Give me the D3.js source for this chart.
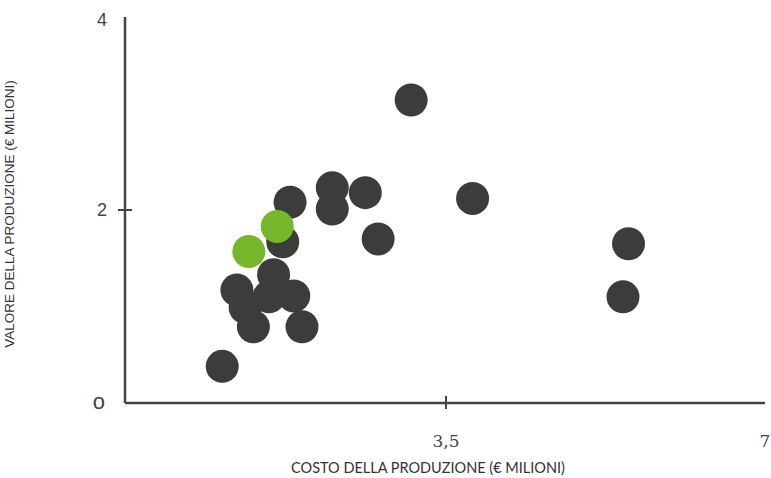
<!DOCTYPE html>
<html>
<head>
<meta charset="utf-8">
<script src="https://cdn.jsdelivr.net/npm/d3@7"></script>
<style>
  body { margin: 0; background: #fff; }
  svg { display: block; }
</style>
</head>
<body>
<div id="chart"></div>
<script>
// costo (x) e valore (y) della produzione, milioni di euro
const costo = [1.06, 1.22, 1.31, 1.40, 1.62, 1.57, 1.84, 1.93, 1.72, 1.80, 2.26, 2.26, 2.62, 2.76, 3.12, 3.79, 5.49, 5.43];
const valore = [0.38, 1.17, 0.99, 0.79, 1.33, 1.10, 1.11, 0.79, 1.67, 2.08, 2.23, 2.01, 2.18, 1.70, 3.14, 2.12, 1.65, 1.10];
const costoEvid = [1.35, 1.66];
const valoreEvid = [1.57, 1.83];
const xTicks = [3.5, 7];
const xTickLabels = ['3,5', '7'];
const yTicks = [0, 2, 4];
const yTickLabels = ['o', '2', '4'];

const W = 771, H = 478;
const M = { TOP: 17, LEFT: 125, BOTTOM: 75 };

const svg = d3.select('#chart').append('svg').attr('width', W).attr('height', H);

const xScale = d3.scaleLinear().domain([0, 7]).range([M.LEFT, 767]);
const yScale = d3.scaleLinear().domain([0, 4]).range([H - M.BOTTOM - 0, M.TOP]);
const y0 = yScale(0);

// assi
svg.append('line')
  .attr('x1', M.LEFT).attr('x2', M.LEFT)
  .attr('y1', yScale(4)).attr('y2', y0)
  .attr('stroke', '#444').attr('stroke-width', 2.5);
svg.append('line')
  .attr('x1', M.LEFT).attr('x2', 765)
  .attr('y1', y0).attr('y2', y0)
  .attr('stroke', '#444').attr('stroke-width', 2.5);

// tick y
svg.selectAll('.ytick').data(yTicks.filter(d => d === 2)).enter().append('line')
  .attr('x1', M.LEFT - 7).attr('x2', M.LEFT + 7)
  .attr('y1', d => yScale(d)).attr('y2', d => yScale(d))
  .attr('stroke', '#444').attr('stroke-width', 2);
svg.selectAll('.ylab').data(yTicks).enter().append('text')
  .attr('x', d => (d === 0 ? 105 : 107))
  .attr('y', d => yScale(d) + (d === 4 ? 9 : 6))
  .attr('text-anchor', 'end')
  .attr('font-family', 'Liberation Sans, Arial, sans-serif')
  .attr('font-size', (d, i) => (i === 0 ? 22 : 18))
  .attr('fill', '#444')
  .text((d, i) => yTickLabels[i]);

// tick x
svg.selectAll('.xtick').data(xTicks.filter(d => d === 3.5)).enter().append('line')
  .attr('x1', d => xScale(d)).attr('x2', d => xScale(d))
  .attr('y1', y0 - 7).attr('y2', y0 + 6)
  .attr('stroke', '#444').attr('stroke-width', 2);
svg.selectAll('.xlab').data(xTicks).enter().append('text')
  .attr('x', d => (d === 7 ? 765 : xScale(d)))
  .attr('y', 447)
  .attr('text-anchor', 'middle')
  .attr('font-family', 'DejaVu Serif, Liberation Serif, serif')
  .attr('font-size', 17)
  .attr('fill', '#444')
  .text((d, i) => xTickLabels[i]);

// titoli assi
svg.append('text')
  .attr('x', 428).attr('y', 473)
  .attr('text-anchor', 'middle')
  .attr('font-family', 'Lato, sans-serif')
  .attr('font-size', 14.5)
  .attr('fill', '#333')
  .text('COSTO DELLA PRODUZIONE (€ MILIONI)');
svg.append('text')
  .attr('transform', 'translate(14,214) rotate(-90)')
  .attr('text-anchor', 'middle')
  .attr('font-family', 'Liberation Sans, Arial, sans-serif')
  .attr('font-size', 13.5)
  .attr('fill', '#333')
  .text('VALORE DELLA PRODUZIONE (€ MILIONI)');

// punti
svg.append('g').selectAll('circle')
  .data(d3.range(costo.length))
  .enter()
  .append('circle')
  .attr('cx', i => xScale(costo[i]))
  .attr('cy', i => yScale(valore[i]))
  .attr('r', 16.5)
  .attr('fill', '#3c3c3a');

svg.append('g').selectAll('circle')
  .data(d3.range(costoEvid.length))
  .enter()
  .append('circle')
  .attr('cx', i => xScale(costoEvid[i]))
  .attr('cy', i => yScale(valoreEvid[i]))
  .attr('r', 16.5)
  .attr('fill', '#76b82a');
</script>
</body>
</html>
